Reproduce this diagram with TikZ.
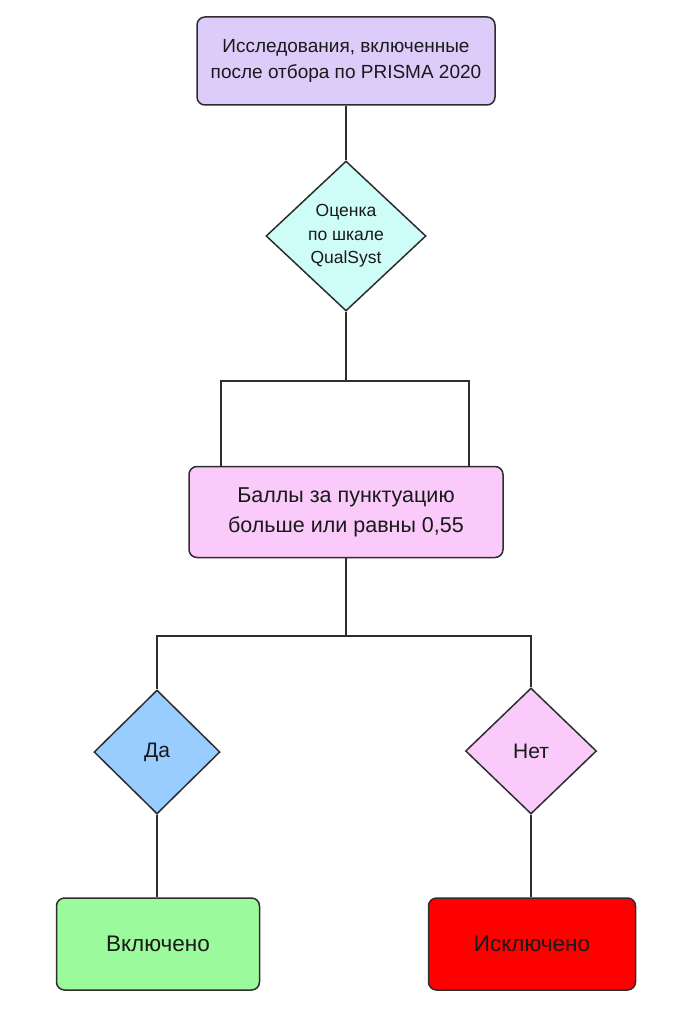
\documentclass[tikz,border=0pt]{standalone}
\usepackage{fontspec}
\setmainfont{Liberation Sans}
\usetikzlibrary{shapes.geometric}
\definecolor{lilac}{RGB}{221,204,250}
\definecolor{mint}{RGB}{206,252,246}
\definecolor{orchid}{RGB}{250,202,250}
\definecolor{sky}{RGB}{153,204,255}
\definecolor{lime}{RGB}{155,250,155}
\definecolor{alarm}{RGB}{255,0,0}
\definecolor{ink}{RGB}{25,25,25}
\definecolor{wire}{RGB}{45,45,45}
\tikzset{block/.style = {draw=wire, line width=1.5pt, rounded corners=8pt, align=center, text=ink},
         choice/.style = {draw=wire, line width=1.5pt, shape=diamond, inner sep=0pt, align=center, text=ink},
         link/.style = {draw=wire, line width=1.5pt}}

\begin{document}
\begin{tikzpicture}[x=1pt,y=-1pt]
\useasboundingbox (0,0) rectangle (695,1024);
\node [block, fill=lilac, minimum width=298pt, minimum height=88pt, font=\fontsize{19}{26}\selectfont] (start) at (346,61) {Исследования, включенные\\после отбора по PRISMA 2020};
\node [choice, fill=mint, minimum width=160pt, minimum height=150pt, font=\fontsize{17.5}{23.5}\selectfont] (qual) at (346,236) {Оценка\\по шкале\\QualSyst};
\node [block, fill=orchid, minimum width=314pt, minimum height=91pt, font=\fontsize{21.5}{30}\selectfont] (score) at (346,512) {Баллы за пунктуацию\\больше или равны 0,55};
\node [choice, fill=sky, minimum width=126pt, minimum height=124pt, font=\fontsize{21}{24}\selectfont] (yes) at (157,752) {Да};
\node [choice, fill=orchid, minimum width=131pt, minimum height=126pt, font=\fontsize{21}{24}\selectfont] (no) at (531,751) {Нет};
\node [block, fill=lime, minimum width=203pt, minimum height=92pt, font=\fontsize{22.5}{26}\selectfont] (incl) at (158,944) {Включено};
\node [block, fill=alarm, minimum width=207pt, minimum height=92pt, font=\fontsize{22.5}{26}\selectfont] (excl) at (532,944) {Исключено};
\coordinate (fork) at (346,381);
\coordinate (split) at (346,636);
\draw [link] (start.south) -- (qual.north);
\draw [link] (qual.south) -- (fork);
\draw [link] (fork) -| ([xshift=-125pt]score.north);
\draw [link] (fork) -| ([xshift=123pt]score.north);
\draw [link] (score.south) -- (split);
\draw [link] (split) -| (yes.north);
\draw [link] (split) -| (no.north);
\draw [link] (yes.south) -- (yes.south |- incl.north);
\draw [link] (no.south) -- (no.south |- excl.north);
\end{tikzpicture}
\end{document}
